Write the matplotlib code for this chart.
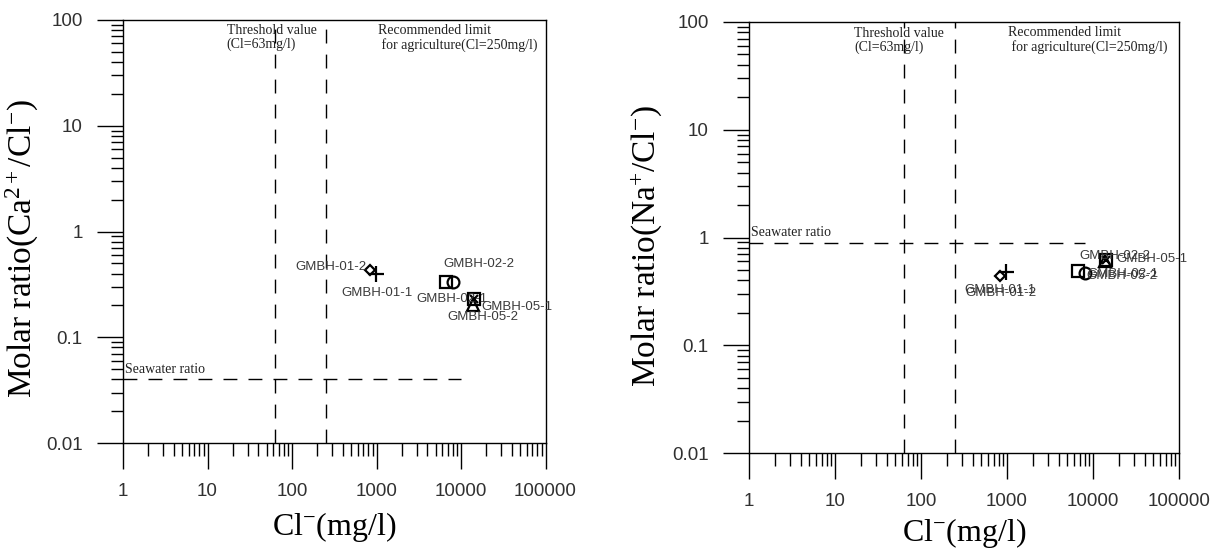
import matplotlib
matplotlib.use('Agg')
import matplotlib.pyplot as plt
from matplotlib.ticker import LogLocator, FixedLocator, FixedFormatter, NullFormatter

plt.rcParams['font.family'] = ['Liberation Sans', 'DejaVu Sans']
plt.rcParams['mathtext.fontset'] = 'custom'
plt.rcParams['mathtext.rm'] = 'Liberation Serif'
plt.rcParams['mathtext.it'] = 'Liberation Serif:italic'
plt.rcParams['mathtext.bf'] = 'Liberation Serif:bold'

# ---------------- data ----------------
samples = ['GMBH-01-1', 'GMBH-01-2', 'GMBH-02-1', 'GMBH-02-2', 'GMBH-05-1', 'GMBH-05-2']
cl_mg_l = [980, 830, 6650, 8100, 14300, 13900]
ca_cl_ratio = [0.40, 0.43, 0.33, 0.33, 0.23, 0.20]
na_cl_ratio = [0.48, 0.44, 0.49, 0.47, 0.62, 0.61]
seawater_ca_cl = 0.04
seawater_na_cl = 0.89
threshold_cl = 63
agri_limit_cl = 250
x_ticks = [1, 10, 100, 1000, 10000, 100000]
x_tick_labels = ['1', '10', '100', '1000', '10000', '100000']
y_ticks = [0.01, 0.1, 1, 10, 100]
y_tick_labels = ['0.01', '0.1', '1', '10', '100']

# ---------------- styles ----------------
markers = ['+', 'D', 's', 'o', 'sx', '^']
msizes = {'+': 11, 'D': 5.5, 's': 8.5, 'o': 8.5, 'x': 6, '^': 8.5}
left_offsets = [(1, -19, 'center'), (-3, 3, 'right'), (6, -17, 'center'),
                (26, 18, 'center'), (7, -8, 'left'), (10, -12, 'center')]
right_offsets = [(-6, -18, 'center'), (1, -17, 'center'), (45, -3, 'center'),
                 (30, 17, 'center'), (10, 1, 'left'), (17, -15, 'center')]
DASH = (0, (10, 8))

fig = plt.figure(figsize=(12.23, 5.52), dpi=100)
axL = fig.add_axes([123 / 1223, 1 - 443 / 552, 422.5 / 1223, 423 / 552])
axR = fig.add_axes([749 / 1223, 1 - 453 / 552, 430 / 1223, 431 / 552])


def draw(ax, ratios, seawater, sw_end, offsets, ylabel, ylab_pos, xlab_pos):
    ax.set_xscale('log')
    ax.set_yscale('log')
    ax.set_xlim(x_ticks[0], x_ticks[-1])
    ax.set_ylim(y_ticks[0], y_ticks[-1])

    ax.plot([x_ticks[0], sw_end], [seawater, seawater], color='k', lw=1, linestyle=DASH)
    ax.axvline(threshold_cl, color='k', lw=1, linestyle=DASH)
    ax.axvline(agri_limit_cl, color='k', lw=1, linestyle=DASH)

    ax.annotate('Seawater ratio', xy=(x_ticks[0], seawater), xytext=(2, 10),
                textcoords='offset pixels', ha='left', va='center', fontsize=10,
                family='Liberation Serif', color='#222222')
    ax.text(0.245, 0.958, 'Threshold value\n(Cl=63mg/l)', transform=ax.transAxes,
            ha='left', va='center', fontsize=10, family='Liberation Serif',
            color='#222222', linespacing=1.05)
    ax.text(0.603, 0.958, 'Recommended limit\n for agriculture(Cl=250mg/l)',
            transform=ax.transAxes, ha='left', va='center', fontsize=10,
            family='Liberation Serif', color='#222222', linespacing=1.05)

    for name, x, y, mk, (dx, dy, ha) in zip(samples, cl_mg_l, ratios, markers, offsets):
        for m in mk:
            ax.plot(x, y, marker=m, ms=msizes[m], mfc='none', mec='k', mew=1.6, ls='none')
        ax.annotate(name, (x, y), xytext=(dx, dy), textcoords='offset pixels',
                    ha=ha, va='center', fontsize=9.5, family='Liberation Sans',
                    color='#3a3a3a')

    ax.xaxis.set_major_locator(FixedLocator(x_ticks))
    ax.xaxis.set_major_formatter(FixedFormatter(x_tick_labels))
    ax.yaxis.set_major_locator(FixedLocator(y_ticks))
    ax.yaxis.set_major_formatter(FixedFormatter(y_tick_labels))
    ax.xaxis.set_minor_locator(LogLocator(base=10, subs=range(2, 10), numticks=30))
    ax.yaxis.set_minor_locator(LogLocator(base=10, subs=range(2, 10), numticks=30))
    ax.xaxis.set_minor_formatter(NullFormatter())
    ax.yaxis.set_minor_formatter(NullFormatter())
    ax.tick_params(which='major', length=19, width=1, direction='out',
                   labelsize=13.5, labelcolor='#303030', pad=10)
    ax.tick_params(which='minor', length=9, width=1, direction='out')
    for s in ax.spines.values():
        s.set_linewidth(1)

    ax.set_xlabel('Cl$^{-}$(mg/l)', fontsize=23, family='Liberation Serif')
    ax.xaxis.label.set_va('center')
    ax.xaxis.set_label_coords(0.5, xlab_pos)
    ax.set_ylabel(ylabel, fontsize=24, family='Liberation Serif')
    ax.yaxis.label.set_va('center')
    ax.yaxis.set_label_coords(-0.238, ylab_pos)


draw(axL, ca_cl_ratio, seawater_ca_cl, 10000, left_offsets,
     'Molar ratio(Ca$^{2+}$/Cl$^{-}$)', 0.46, -84 / 423)
draw(axR, na_cl_ratio, seawater_na_cl, 8000, right_offsets,
     'Molar ratio(Na$^{+}$/Cl$^{-}$)', 0.48, -80 / 431)

fig.savefig('out.png', dpi=100)
